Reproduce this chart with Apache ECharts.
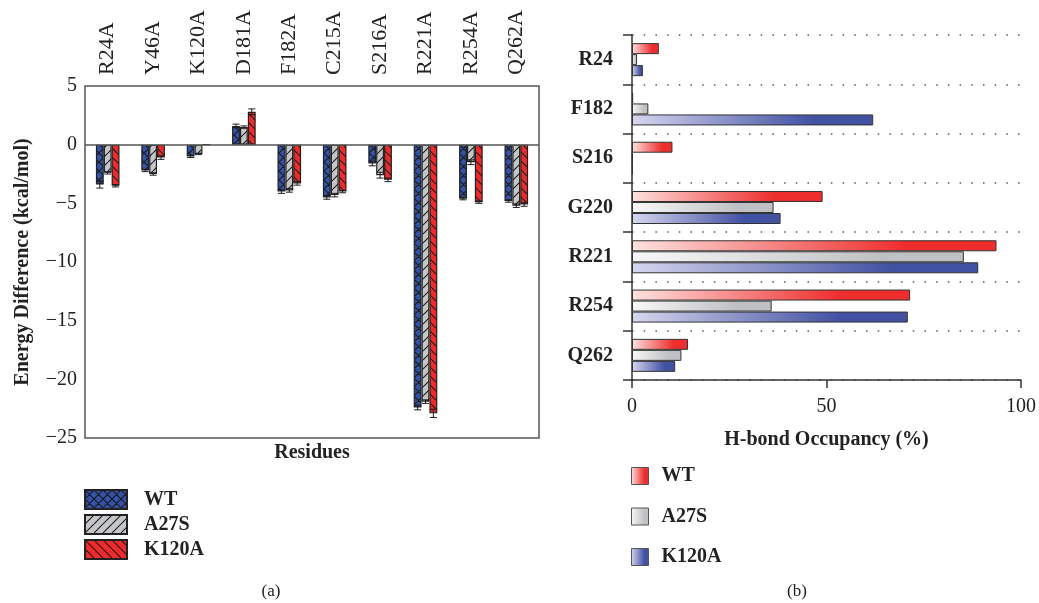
<!DOCTYPE html>
<html>
<head>
<meta charset="utf-8">
<script src="https://cdn.jsdelivr.net/npm/echarts@6/dist/echarts.min.js"></script>
<style>
html,body{margin:0;padding:0;background:#fff;}
#chart{width:1039px;height:603px;}
</style>
</head>
<body>
<div id="chart"></div>
<script>
// ---------- Data: panel (a) ----------
const residuesA = ['R24A','Y46A','K120A','D181A','F182A','C215A','S216A','R221A','R254A','Q262A'];
const energyWT   = [-3.4, -2.2, -1.0, 1.6, -4.0, -4.5, -1.6, -22.4, -4.6, -4.8];
const energyA27S = [-2.4, -2.5, -0.8, 1.5, -3.9, -4.3, -2.6, -21.9, -1.5, -5.2];
const energyK120A= [-3.5, -1.1,  0.0, 2.8, -3.3, -4.0, -3.0, -22.9, -4.9, -5.1];
const errWT   = [0.3, 0.1, 0.1, 0.15, 0.15, 0.15, 0.2, 0.2, 0.1, 0.1];
const errA27S = [0.1, 0.1, 0.05, 0.1, 0.15, 0.15, 0.25, 0.15, 0.2, 0.15];
const errK120A= [0.1, 0.15, 0, 0.25, 0.15, 0.1, 0.15, 0.35, 0.1, 0.15];
const energyTicks = [-25, 5, 5]; // min, max, interval

// ---------- Data: panel (b) ----------
const residuesB = ['R24','F182','S216','G220','R221','R254','Q262'];
const occWT    = [6.9, 0.3, 10.4, 49.0, 93.7, 71.5, 14.4];
const occA27S  = [1.3, 4.2, 0.2, 36.4, 85.3, 35.9, 12.7];
const occK120A = [2.8, 62.0, 0.2, 38.2, 89.0, 70.9, 11.1];
const occTicks = [0, 100, 50];

const seriesNames = ['WT','A27S','K120A'];

const SERIF = '"Liberation Serif","DejaVu Serif",serif';

function makePattern(fill, kind, size) {
  const c = document.createElement('canvas');
  c.width = size; c.height = size;
  const g = c.getContext('2d');
  g.fillStyle = fill; g.fillRect(0, 0, size, size);
  g.strokeStyle = '#1c1c1c'; g.lineWidth = 1.1;
  g.beginPath();
  for (const k of [-size, 0, size]) {
    if (kind.indexOf('/') >= 0) { g.moveTo(k, size); g.lineTo(k + size, 0); }
    if (kind.indexOf('\\') >= 0) { g.moveTo(k, 0); g.lineTo(k + size, size); }
  }
  g.stroke();
  return { image: c, repeat: 'repeat' };
}

const patWT = makePattern('#3352a8', '/\\', 9);
const patA27S = makePattern('#c5c6c9', '/', 9);
const patK120A = makePattern('#ee2a2a', '\\', 9);

const CAT_GAP = 0.48;

function errSeries(idx, vals, errs) {
  return {
    type: 'custom', name: 'err' + idx, xAxisIndex: 0, yAxisIndex: 0, z: 5, silent: true,
    data: vals.map((v, i) => [i, v, errs[i]]),
    renderItem: function (params, api) {
      const e = api.value(2);
      if (!e) return null;
      const i = api.value(0), v = api.value(1);
      const band = api.size([1, 0])[0];
      const bw = band * (1 - CAT_GAP) / 3;
      const cx = api.coord([i, 0])[0] + (idx - 1) * bw;
      const y1 = api.coord([i, v - e])[1];
      const y2 = api.coord([i, v + e])[1];
      const hw = 3.5;
      const st = { stroke: '#1c1c1c', lineWidth: 1 };
      return { type: 'group', children: [
        { type: 'line', shape: { x1: cx, y1: y1, x2: cx, y2: y2 }, style: st },
        { type: 'line', shape: { x1: cx - hw, y1: y1, x2: cx + hw, y2: y1 }, style: st },
        { type: 'line', shape: { x1: cx - hw, y1: y2, x2: cx + hw, y2: y2 }, style: st }
      ]};
    }
  };
}

function grad(c0, c1) {
  return { type: 'linear', x: 0, y: 0, x2: 1, y2: 0,
    colorStops: [{ offset: 0, color: c0 }, { offset: 0.75, color: c1 }, { offset: 1, color: c1 }] };
}

const chart = echarts.init(document.getElementById('chart'), null, { renderer: 'canvas' });

const barA = (name, data, pat) => ({
  type: 'bar', name: name, xAxisIndex: 0, yAxisIndex: 0, data: data,
  barGap: '0%', barCategoryGap: (CAT_GAP * 100) + '%',
  itemStyle: { color: pat, borderColor: '#222', borderWidth: 1.2 }
});

const barB = (name, data, c0, c1) => ({
  type: 'bar', name: name + ' (b)', xAxisIndex: 1, yAxisIndex: 1, data: data,
  barGap: '0%', barCategoryGap: '33%',
  itemStyle: { color: grad(c0, c1), borderColor: '#333', borderWidth: 1 }
});

const wtA = barA(seriesNames[0], energyWT, patWT);
wtA.markLine = { silent: true, symbol: 'none', label: { show: false },
  lineStyle: { color: '#555', width: 1.5, type: 'solid' }, data: [{ yAxis: 0 }] };

const option = {
  backgroundColor: '#fff',
  animation: false,
  textStyle: { fontFamily: SERIF },
  grid: [
    { left: 85, top: 86, width: 454, height: 352, show: true, borderColor: '#555', borderWidth: 1.5, backgroundColor: 'transparent' },
    { left: 632, top: 35, width: 390, height: 345 }
  ],
  xAxis: [
    { type: 'category', gridIndex: 0, data: residuesA, position: 'top',
      axisLine: { show: false }, axisTick: { show: false },
      axisLabel: { rotate: 90, margin: 11, fontSize: 22, color: '#222', fontFamily: SERIF } },
    { type: 'value', gridIndex: 1, min: occTicks[0], max: occTicks[1], interval: occTicks[2],
      axisLine: { show: true, lineStyle: { color: '#333', width: 1.5 } },
      axisTick: { show: true, length: 8, lineStyle: { color: '#333', width: 1.5 } },
      splitLine: { show: false },
      axisLabel: { fontSize: 20, color: '#222', margin: 17, fontFamily: SERIF },
      name: 'H-bond Occupancy (%)', nameLocation: 'middle', nameGap: 50,
      nameTextStyle: { fontSize: 20, fontWeight: 'bold', color: '#222', fontFamily: SERIF } }
  ],
  yAxis: [
    { type: 'value', gridIndex: 0, min: energyTicks[0], max: energyTicks[1], interval: energyTicks[2],
      axisLine: { show: false }, axisTick: { show: false }, splitLine: { show: false },
      axisLabel: { fontSize: 20, color: '#222', margin: 8, fontFamily: SERIF,
        formatter: v => (v < 0 ? '\u2212' + Math.abs(v) : String(v)) },
      name: 'Energy Difference (kcal/mol)', nameLocation: 'middle', nameGap: 52,
      nameTextStyle: { fontSize: 20, fontWeight: 'bold', color: '#222', fontFamily: SERIF } },
    { type: 'category', gridIndex: 1, data: residuesB, inverse: true,
      axisLine: { show: true, lineStyle: { color: '#333', width: 1.5 } },
      axisTick: { show: true, length: 9, lineStyle: { color: '#333', width: 1.5 } },
      splitLine: { show: true, lineStyle: { color: '#555', width: 1.5, type: [1.5, 10.2] } },
      axisLabel: { fontSize: 20, fontWeight: 'bold', color: '#222', margin: 19, fontFamily: SERIF } }
  ],
  legend: [
    { orient: 'vertical', left: 84, top: 489, padding: 0, icon: 'rect',
      itemWidth: 42, itemHeight: 19, itemGap: 4, selectedMode: false,
      data: seriesNames,
      textStyle: { fontSize: 20, fontWeight: 'bold', color: '#222', fontFamily: SERIF, lineHeight: 19, padding: [0, 0, 0, 12] } },
    { orient: 'vertical', left: 631, top: 466, padding: 0, icon: 'rect',
      itemWidth: 17, itemHeight: 17, itemGap: 20.5, selectedMode: false,
      data: seriesNames.map(n => n + ' (b)'),
      formatter: n => n.replace(' (b)', ''),
      itemStyle: { borderColor: '#555', borderWidth: 1 },
      textStyle: { fontSize: 20, fontWeight: 'bold', color: '#222', fontFamily: SERIF, lineHeight: 17, padding: [0, 0, 0, 8] } }
  ],
  graphic: [
    { type: 'text', x: 312, y: 453, style: { text: 'Residues', font: 'bold 20px ' + SERIF, fill: '#222', align: 'center', verticalAlign: 'middle' } },
    { type: 'text', x: 271, y: 592, style: { text: '(a)', font: '17px ' + SERIF, fill: '#222', align: 'center', verticalAlign: 'middle' } },
    { type: 'text', x: 797, y: 592, style: { text: '(b)', font: '17px ' + SERIF, fill: '#222', align: 'center', verticalAlign: 'middle' } }
  ],
  series: [
    wtA,
    barA(seriesNames[1], energyA27S, patA27S),
    barA(seriesNames[2], energyK120A, patK120A),
    errSeries(0, energyWT, errWT),
    errSeries(1, energyA27S, errA27S),
    errSeries(2, energyK120A, errK120A),
    barB(seriesNames[0], occWT, '#fde2df', '#ee2d2d'),
    barB(seriesNames[1], occA27S, '#f8f8f8', '#bfc0c3'),
    barB(seriesNames[2], occK120A, '#d6d6ee', '#4252a3')
  ]
};

chart.setOption(option);
</script>
</body>
</html>
